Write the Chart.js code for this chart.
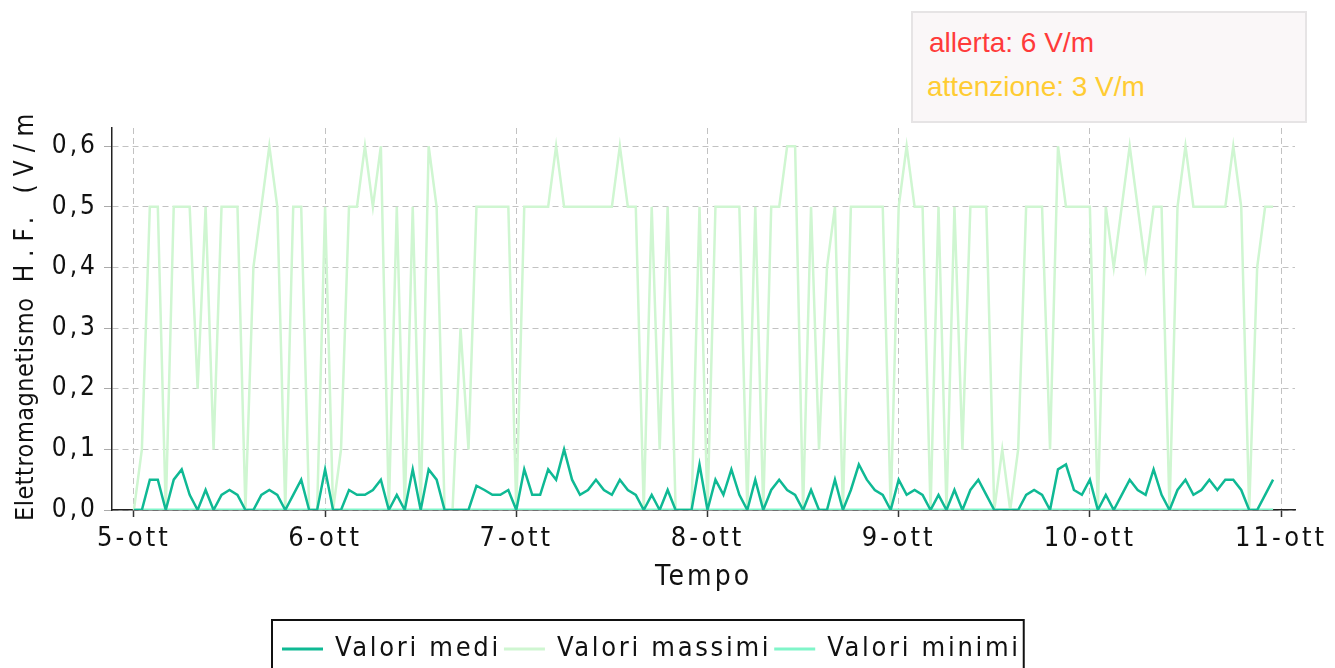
<!DOCTYPE html>
<html>
<head>
<meta charset="utf-8">
<script src="https://cdn.jsdelivr.net/npm/chart.js@4.4.1/dist/chart.umd.min.js"></script>
<style>
  body { margin: 0; background: #fff; }
  #wrap { position: relative; width: 1335px; height: 668px; overflow: hidden; }
  #soglie { position: absolute; left: 911px; top: 11px; width: 392px; height: 108px; background: #faf7f8; border: 2px solid #e6e4e5; font-family: "Liberation Sans", Arial, sans-serif; font-size: 28px; }
  #soglie div { position: absolute; left: 16px; white-space: nowrap; }
</style>
</head>
<body>
<div id="wrap">
  <canvas id="grafico" width="1335" height="668"></canvas>
  <div id="soglie">
    <div style="top:14px;color:#ff3a3a">allerta: 6 V/m</div>
    <div style="top:58px;left:14px;color:#ffcc33">attenzione: 3 V/m</div>
  </div>
</div>
<script>
// one reading per hour, starting 5-ott 00:00
const dayLabels = ['5-ott', '6-ott', '7-ott', '8-ott', '9-ott', '10-ott', '11-ott'];
const dayTicks = [0, 24, 48, 72, 96, 120, 144];
const yTicks = [0, 0.1, 0.2, 0.3, 0.4, 0.5, 0.6];
const yTitleParts = ['Elettromagnetismo', ' H.F. (V/m)'];
const xTitle = 'Tempo';

const mediValues = [
    0, 0, 0.05, 0.05, 0, 0.05, 0.067, 0.025, 0, 0.033, 0, 0.025, 0.033, 0.025, 0, 0, 0.025, 0.033, 0.025, 0, 0.025, 0.05, 0, 0,
    0.067, 0, 0, 0.033, 0.025, 0.025, 0.033, 0.05, 0, 0.025, 0, 0.067, 0, 0.067, 0.05, 0, 0, 0, 0, 0.04, 0.033, 0.025, 0.025, 0.033,
    0, 0.067, 0.025, 0.025, 0.067, 0.05, 0.1, 0.05, 0.025, 0.033, 0.05, 0.033, 0.025, 0.05, 0.033, 0.025, 0, 0.025, 0, 0.033, 0, 0, 0, 0.075,
    0, 0.05, 0.025, 0.067, 0.025, 0, 0.05, 0, 0.033, 0.05, 0.033, 0.025, 0, 0.033, 0, 0, 0.05, 0, 0.033, 0.075, 0.05, 0.033, 0.025, 0,
    0.05, 0.025, 0.033, 0.025, 0, 0.025, 0, 0.033, 0, 0.033, 0.05, 0.025, 0, 0, 0, 0, 0.025, 0.033, 0.025, 0, 0.067, 0.075, 0.033, 0.025,
    0.05, 0, 0.025, 0, 0.025, 0.05, 0.033, 0.025, 0.067, 0.025, 0, 0.033, 0.05, 0.025, 0.033, 0.05, 0.033, 0.05, 0.05, 0.033, 0, 0, 0.025, 0.05
];
const massimiValues = [
    0, 0.1, 0.5, 0.5, 0, 0.5, 0.5, 0.5, 0.2, 0.5, 0.1, 0.5, 0.5, 0.5, 0, 0.4, 0.5, 0.6, 0.5, 0, 0.5, 0.5, 0, 0,
    0.5, 0, 0.1, 0.5, 0.5, 0.6, 0.5, 0.6, 0, 0.5, 0, 0.5, 0, 0.6, 0.5, 0, 0, 0.3, 0.1, 0.5, 0.5, 0.5, 0.5, 0.5,
    0, 0.5, 0.5, 0.5, 0.5, 0.6, 0.5, 0.5, 0.5, 0.5, 0.5, 0.5, 0.5, 0.6, 0.5, 0.5, 0, 0.5, 0.1, 0.5, 0, 0, 0, 0.5,
    0, 0.5, 0.5, 0.5, 0.5, 0, 0.5, 0, 0.5, 0.5, 0.6, 0.6, 0, 0.5, 0.1, 0.4, 0.5, 0, 0.5, 0.5, 0.5, 0.5, 0.5, 0,
    0.5, 0.6, 0.5, 0.5, 0, 0.5, 0, 0.5, 0.1, 0.5, 0.5, 0.5, 0, 0.1, 0, 0.1, 0.5, 0.5, 0.5, 0.1, 0.6, 0.5, 0.5, 0.5,
    0.5, 0, 0.5, 0.4, 0.5, 0.6, 0.5, 0.4, 0.5, 0.5, 0, 0.5, 0.6, 0.5, 0.5, 0.5, 0.5, 0.5, 0.6, 0.5, 0, 0.4, 0.5, 0.5
];
const minimiValues = [
    0, 0, 0, 0, 0, 0, 0, 0, 0, 0, 0, 0, 0, 0, 0, 0, 0, 0, 0, 0, 0, 0, 0, 0,
    0, 0, 0, 0, 0, 0, 0, 0, 0, 0, 0, 0, 0, 0, 0, 0, 0, 0, 0, 0, 0, 0, 0, 0,
    0, 0, 0, 0, 0, 0, 0, 0, 0, 0, 0, 0, 0, 0, 0, 0, 0, 0, 0, 0, 0, 0, 0, 0,
    0, 0, 0, 0, 0, 0, 0, 0, 0, 0, 0, 0, 0, 0, 0, 0, 0, 0, 0, 0, 0, 0, 0, 0,
    0, 0, 0, 0, 0, 0, 0, 0, 0, 0, 0, 0, 0, 0, 0, 0, 0, 0, 0, 0, 0, 0, 0, 0,
    0, 0, 0, 0, 0, 0, 0, 0, 0, 0, 0, 0, 0, 0, 0, 0, 0, 0, 0, 0, 0, 0, 0, 0
];
const hours = mediValues.map((v, i) => i);

const FONT = '"DejaVu Sans Condensed", "DejaVu Sans", sans-serif';
const TEXT_COLOR = '#111';

// letter spacing for the library's own texts (ticks, x title)
const spacingPlugin = {
    id: 'spacing',
    beforeUpdate(chart) { chart.ctx.letterSpacing = '3px'; },
    beforeDraw(chart) { chart.ctx.letterSpacing = '3px'; }
};

// y title is cut at the top like in the original export
const yTitlePlugin = {
    id: 'yTitle',
    afterDraw(chart) {
        const ctx = chart.ctx;
        ctx.save();
        ctx.beginPath();
        ctx.rect(0, 108, 60, 560);
        ctx.clip();
        ctx.translate(33, 521);
        ctx.rotate(-Math.PI / 2);
        ctx.font = '25px ' + FONT;
        ctx.fillStyle = TEXT_COLOR;
        ctx.textAlign = 'left';
        ctx.textBaseline = 'alphabetic';
        ctx.letterSpacing = '0.5px';
        ctx.fillText(yTitleParts[0], 0, 0);
        const w = ctx.measureText(yTitleParts[0]).width;
        ctx.font = '26px ' + FONT;
        ctx.letterSpacing = '8px';
        ctx.fillText(yTitleParts[1], w, 0);
        ctx.restore();
    }
};

// boxed legend under the axis
const legendPlugin = {
    id: 'boxLegend',
    afterDraw(chart) {
        const ctx = chart.ctx;
        const y = 649;
        let x = 282;
        ctx.save();
        ctx.font = '27px ' + FONT;
        ctx.letterSpacing = '2.7px';
        ctx.textBaseline = 'middle';
        ctx.textAlign = 'left';
        chart.data.datasets.forEach(ds => {
            ctx.strokeStyle = ds.borderColor;
            ctx.lineWidth = 3;
            ctx.beginPath();
            ctx.moveTo(x, y);
            ctx.lineTo(x + 41, y);
            ctx.stroke();
            x += 53;
            ctx.fillStyle = TEXT_COLOR;
            ctx.fillText(ds.label, x, y);
            x += ctx.measureText(ds.label).width + 3;
        });
        ctx.strokeStyle = '#111';
        ctx.lineWidth = 2;
        ctx.strokeRect(272, 620, x - 272, 60);
        ctx.restore();
    }
};

new Chart(document.getElementById('grafico'), {
    type: 'line',
    data: {
        labels: hours,
        datasets: [
            { label: 'Valori medi', data: mediValues, borderColor: '#0fb994', borderWidth: 2.5 },
            { label: 'Valori massimi', data: massimiValues, borderColor: '#cff6d1', borderWidth: 2.5 },
            { label: 'Valori minimi', data: minimiValues, borderColor: '#80f5c9', borderWidth: 3 }
        ]
    },
    options: {
        responsive: false,
        animation: false,
        devicePixelRatio: 1,
        elements: { point: { radius: 0 }, line: { tension: 0 } },
        layout: { padding: { top: 128, right: 40, bottom: 50, left: 0 } },
        plugins: { legend: { display: false }, tooltip: { enabled: false } },
        scales: {
            x: {
                type: 'linear',
                min: -2.75,
                max: 145.75,
                afterBuildTicks(scale) { scale.ticks = dayTicks.map(v => ({ value: v })); },
                afterFit(scale) { scale.height = 108; },
                ticks: {
                    autoSkip: false,
                    maxRotation: 0,
                    padding: 6,
                    color: TEXT_COLOR,
                    font: { family: FONT, size: 27 },
                    callback: (v) => dayLabels[dayTicks.indexOf(v)]
                },
                grid: { color: '#c2c2c2', lineWidth: 1, tickLength: 7, tickColor: '#333', tickWidth: 1.5 },
                border: { display: true, color: '#222', width: 1.5, dash: [6, 4] },
                title: { display: true, text: xTitle, color: TEXT_COLOR, font: { family: FONT, size: 28 }, padding: { top: 0, bottom: 23 } }
            },
            y: {
                min: 0,
                max: 0.63,
                afterBuildTicks(scale) { scale.ticks = yTicks.map(v => ({ value: v })); },
                afterFit(scale) { scale.width = 112; },
                ticks: {
                    padding: 6,
                    color: TEXT_COLOR,
                    font: { family: FONT, size: 26 },
                    callback: (v) => v.toFixed(1).replace('.', ',')
                },
                grid: { color: '#c2c2c2', lineWidth: 1, tickLength: 8, tickColor: '#aaa' },
                border: { display: true, color: '#222', width: 1.5, dash: [6, 4] }
            }
        }
    },
    plugins: [spacingPlugin, yTitlePlugin, legendPlugin]
});
</script>
</body>
</html>
